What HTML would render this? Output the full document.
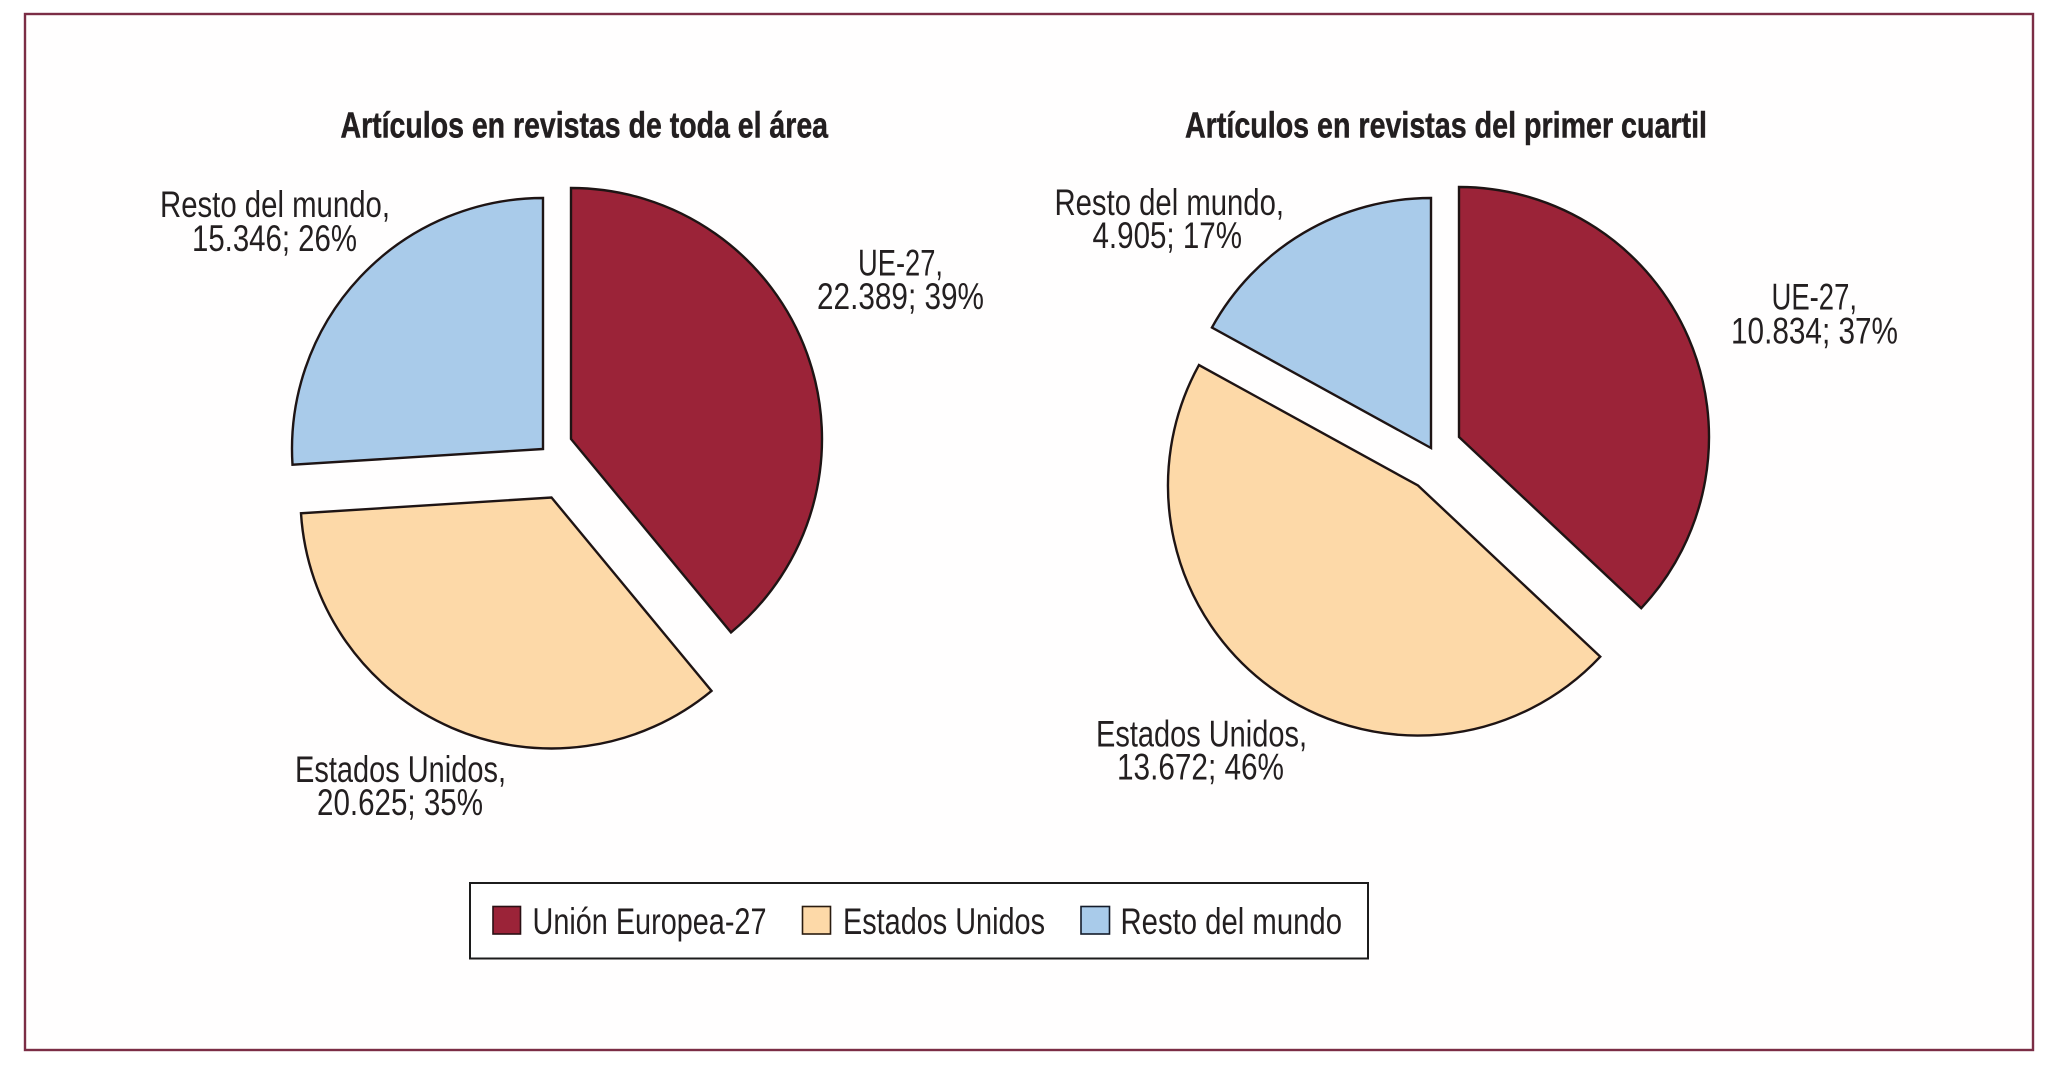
<!DOCTYPE html>
<html lang="es">
<head>
<meta charset="utf-8">
<title>Artículos en revistas</title>
<style>
  html, body { margin: 0; padding: 0; background: #ffffff; }
  svg { display: block; }
  text { font-family: "Liberation Sans", Arial, sans-serif; fill: #231f20; }
</style>
</head>
<body>
<svg id="chart" xmlns="http://www.w3.org/2000/svg" width="2054" height="1066" viewBox="0 0 2054 1066">
  <rect x="25" y="14" width="2008" height="1036" fill="#fffefe" stroke="#7b2d45" stroke-width="2.4"/>

  <text x="340.5" y="137.5" font-size="36" font-weight="bold" stroke="#231f20" stroke-width="0.5" textLength="487.5" lengthAdjust="spacingAndGlyphs">Artículos en revistas de toda el área</text>
  <text x="1185" y="137.5" font-size="36" font-weight="bold" stroke="#231f20" stroke-width="0.5" textLength="522" lengthAdjust="spacingAndGlyphs">Artículos en revistas del primer cuartil</text>

  <g id="left-pie"></g>
  <g id="right-pie"></g>

  <g>
    <rect x="470" y="883" width="898" height="75.5" fill="#ffffff" stroke="#1c1c1c" stroke-width="2"/>
    <rect x="493" y="906.5" width="27.5" height="27.5" fill="#9b2338" stroke="#2a1014" stroke-width="1.6"/>
    <text x="532.5" y="934" font-size="37.5" textLength="234" lengthAdjust="spacingAndGlyphs">Unión Europea-27</text>
    <rect x="802.5" y="906.5" width="28" height="27.5" fill="#fdd9a8" stroke="#2a1c10" stroke-width="1.6"/>
    <text x="843" y="934" font-size="37.5" textLength="202" lengthAdjust="spacingAndGlyphs">Estados Unidos</text>
    <rect x="1081" y="906.5" width="28.5" height="27.5" fill="#a9cbea" stroke="#141c2a" stroke-width="1.6"/>
    <text x="1120.5" y="934" font-size="37.5" textLength="221.5" lengthAdjust="spacingAndGlyphs">Resto del mundo</text>
  </g>
</svg>

<script>
// Chart data: slice shares (percent) and printed labels
const categories = ["UE-27", "Estados Unidos", "Resto del mundo"];
const areaShares = [39, 35, 26];
const quartileShares = [37, 46, 17];
const areaCounts = ["22.389", "20.625", "15.346"];
const quartileCounts = ["10.834", "13.672", "4.905"];

// Layout (not data): where each exploded slice sits and where its label goes
const sliceColors = ["#9b2338", "#fdd9a8", "#a9cbea"];
const sliceKeys = ["ue", "us", "rest"];
const SVG_NS = "http://www.w3.org/2000/svg";
const FULL_TURN = 360;

const leftLayout = {
  prefix: "left",
  radius: 251,
  apex: [[571, 439], [551.5, 497.5], [543, 449]],
  nameBox: [[858, 275.5, 85], [295, 782, 211], [160, 217, 230]],
  valueBox: [[817, 309, 167], [317, 815, 166], [192, 251, 165]]
};
const rightLayout = {
  prefix: "right",
  radius: 250,
  apex: [[1459, 437], [1418, 485.5], [1431, 448]],
  nameBox: [[1771.5, 309.5, 85.5], [1096, 746.5, 211], [1054.5, 215, 229.5]],
  valueBox: [[1731, 343.5, 167], [1117, 779.5, 167], [1092.5, 248, 149.5]]
};

function angleScale(share, total) {
  return (share / total) * FULL_TURN;
}

function polar(center, radius, degrees) {
  const rad = degrees * Math.PI / 180;
  return [center[0] + radius * Math.sin(rad), center[1] - radius * Math.cos(rad)];
}

function slicePath(center, radius, startDeg, endDeg) {
  const a = polar(center, radius, startDeg);
  const b = polar(center, radius, endDeg);
  const large = endDeg - startDeg > 180 ? 1 : 0;
  return "M" + center[0] + " " + center[1] +
    " L" + a[0].toFixed(2) + " " + a[1].toFixed(2) +
    " A" + radius + " " + radius + " 0 " + large + " 1 " + b[0].toFixed(2) + " " + b[1].toFixed(2) + " Z";
}

function addLabelLine(parent, box, content, name) {
  const t = document.createElementNS(SVG_NS, "text");
  
  
  t.setAttribute("x", box[0]);
  t.setAttribute("y", box[1]);
  t.setAttribute("font-size", "37");
  t.setAttribute("textLength", box[2]);
  t.setAttribute("lengthAdjust", "spacingAndGlyphs");
  t.textContent = content;
  parent.appendChild(t);
}

function drawPie(groupId, shares, counts, layout) {
  const group = document.getElementById(groupId);
  const total = shares.reduce(function (sum, v) { return sum + v; }, 0);
  let cumulative = 0;
  shares.forEach(function (share, i) {
    const startDeg = angleScale(cumulative, total);
    cumulative += share;
    const endDeg = angleScale(cumulative, total);
    const path = document.createElementNS(SVG_NS, "path");
    
    
    path.setAttribute("d", slicePath(layout.apex[i], layout.radius, startDeg, endDeg));
    path.setAttribute("fill", sliceColors[i]);
    path.setAttribute("stroke", "#1e1414");
    path.setAttribute("stroke-width", "2.4");
    path.setAttribute("stroke-linejoin", "miter");
    group.appendChild(path);

    addLabelLine(group, layout.nameBox[i], categories[i] + ",", layout.prefix + "-label-name-" + sliceKeys[i]);
    addLabelLine(group, layout.valueBox[i], counts[i] + "; " + share + "%", layout.prefix + "-label-value-" + sliceKeys[i]);
  });
}

drawPie("left-pie", areaShares, areaCounts, leftLayout);
drawPie("right-pie", quartileShares, quartileCounts, rightLayout);
</script>
</body>
</html>
